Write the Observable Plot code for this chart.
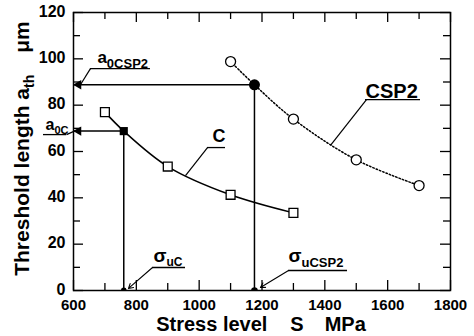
<!DOCTYPE html>
<html>
<head>
<meta charset="utf-8">
<script src="https://cdn.jsdelivr.net/npm/d3@7"></script>
<script src="https://cdn.jsdelivr.net/npm/@observablehq/plot@0.6"></script>
<style>
  html, body { margin: 0; padding: 0; background: #fff; }
</style>
</head>
<body>
<div id="chart"></div>
<script>
// ---- data ----
const stressC = [700, 900, 1100, 1300];
const athC = [77, 53.5, 41.3, 33.5];
const stressCSP2 = [1100, 1300, 1500, 1700];
const athCSP2 = [98.8, 74, 56.4, 45.3];
const seriesNames = ["C", "CSP2"];
const sigmaU = [760, 1176];      // σuC, σuCSP2
const a0 = [68.8, 88.8];         // a0C, a0CSP2

const xMajor = [600, 800, 1000, 1200, 1400, 1600, 1800];
const xMinor = [700, 900, 1100, 1300, 1500, 1700];
const yMajor = [0, 20, 40, 60, 80, 100, 120];
const yMinor = [10, 30, 50, 70, 90, 110];

const xTitle = "Stress level S MPa";
const yTitle = "Threshold length ath μm";

// ---- annotation placement (data units) ----
const notes = [
  {text: "a0CSP2", x: 676, y: 98.4, size: 17, ul: [654, 845, 95.8], lead: [654, 95.8, 622, 88.8], head: false},
  {text: "a0C", x: 511, y: 69.1, size: 16, ul: [504.5, 577.7, 67.3], lead: [577.7, 67.3, 603, 68.8], head: false},
  {text: "σuC", x: 854.6, y: 12.1, size: 19, ul: [851.5, 956.5, 9.93], lead: [851.5, 9.93, 775, 0.9], head: true},
  {text: "σuCSP2", x: 1284.4, y: 12.1, size: 19, ul: [1284.4, 1472.2, 8.63], lead: [1284.4, 8.63, 1195, 1.3], head: true},
  {text: seriesNames[0], x: 1042.4, y: 63.9, size: 18, ul: [1026.5, 1083.8, 61.7], lead: [1026.5, 61.7, 956.5, 49.6], head: false},
  {text: seriesNames[1], x: 1529.5, y: 83.3, size: 20, ul: [1529.5, 1704.5, 82.4], lead: [1532.6, 82.4, 1418, 62.6], head: false}
];

// rich text (subscripts) specs, applied after rendering
const rich = {
  "a0CSP2": [{t: "a"}, {t: "0CSP2", sub: 5, size: 13}],
  "a0C": [{t: "a"}, {t: "0C", sub: 4, size: 11}],
  "σuC": [{t: "σ"}, {t: "uC", sub: 4, size: 12}],
  "σuCSP2": [{t: "σ"}, {t: "uCSP2", sub: 5, size: 13}],
  [yTitle]: [{t: "Threshold length "}, {t: "a"}, {t: "th", sub: 5, size: 14}, {t: "μm", dx: 22}],
  [xTitle]: [{t: "Stress level"}, {t: "S", dx: 23}, {t: "MPa", dx: 21}]
};

// ---- derived tables ----
const ptsC = stressC.map((s, i) => ({s, a: athC[i]}));
const ptsCSP2 = stressCSP2.map((s, i) => ({s, a: athCSP2[i]}));
const curveC = [...ptsC, {s: sigmaU[0], a: a0[0]}].sort((p, q) => p.s - q.s);
const curveCSP2 = [...ptsCSP2, {s: sigmaU[1], a: a0[1]}].sort((p, q) => p.s - q.s);
const thr = sigmaU.map((s, i) => ({s, a: a0[i]}));

const W = 474, H = 336, ML = 73, MR = 24, MT = 12, MB = 46;
const FW = W - ML - MR, FH = H - MT - MB;
const FONT = "'Liberation Sans', Arial, Helvetica, sans-serif";

const plot = Plot.plot({
  width: W, height: H,
  marginLeft: ML, marginRight: MR, marginTop: MT, marginBottom: MB,
  style: {fontFamily: FONT, background: "#fff", color: "#000"},
  x: {domain: [600, 1800], axis: null},
  y: {domain: [0, 120], axis: null},
  marks: [
    // threshold guide lines
    Plot.ruleY(thr, {y: "a", x1: 600, x2: "s", stroke: "#000", strokeWidth: 1.5}),
    Plot.ruleX(thr, {x: "s", y1: 0, y2: "a", stroke: "#000", strokeWidth: 1.5}),
    // curves
    Plot.line(curveC, {x: "s", y: "a", curve: "catmull-rom", stroke: "#000", strokeWidth: 1.5}),
    Plot.line(curveCSP2, {x: "s", y: "a", curve: "catmull-rom", stroke: "#000", strokeWidth: 1.5, strokeDasharray: "1.5 2"}),
    // frame and ticks
    Plot.frame({stroke: "#000", strokeWidth: 1.5}),
    Plot.ruleX(xMajor, {x: d => d, insetTop: FH - 10, stroke: "#000", strokeWidth: 1.3}),
    Plot.ruleX(xMinor, {x: d => d, insetTop: FH - 7, stroke: "#000", strokeWidth: 1.3}),
    Plot.ruleX(xMajor, {x: d => d, insetBottom: FH - 10, stroke: "#000", strokeWidth: 1.3}),
    Plot.ruleX(xMinor, {x: d => d, insetBottom: FH - 7, stroke: "#000", strokeWidth: 1.3}),
    Plot.ruleY(yMajor, {y: d => d, insetRight: FW - 10, stroke: "#000", strokeWidth: 1.3}),
    Plot.ruleY(yMinor, {y: d => d, insetRight: FW - 7, stroke: "#000", strokeWidth: 1.3}),
    Plot.ruleY(yMajor, {y: d => d, insetLeft: FW - 10, stroke: "#000", strokeWidth: 1.3}),
    Plot.ruleY(yMinor, {y: d => d, insetLeft: FW - 7, stroke: "#000", strokeWidth: 1.3}),
    // tick labels
    Plot.text(xMajor, {x: d => d, y: 0, text: d => String(d), dy: 9, lineAnchor: "top", fontSize: 15, fontWeight: "bold", fill: "#000"}),
    Plot.text(yMajor, {x: 600, y: d => d, text: d => String(d), dx: -8, dy: -1, textAnchor: "end", fontSize: 16, fontWeight: "bold", fill: "#000"}),
    // markers
    Plot.dot(ptsC, {x: "s", y: "a", symbol: "square", r: 5, fill: "#fff", stroke: "#000", strokeWidth: 1.3}),
    Plot.dot(ptsCSP2, {x: "s", y: "a", symbol: "circle", r: 5, fill: "#fff", stroke: "#000", strokeWidth: 1.3}),
    Plot.dot(thr.slice(0, 1), {x: "s", y: "a", symbol: "square", r: 4.6, fill: "#000"}),
    Plot.dot(thr.slice(1), {x: "s", y: "a", symbol: "circle", r: 5.5, fill: "#000"}),
    Plot.dot(sigmaU.map((s, i) => ({s, r: i ? 6 : 4.5})), {x: "s", y: 0, r: "r", fill: "#000", clip: true}),
    Plot.dot(a0, {x: 600, y: d => d, symbol: "triangle", rotate: -90, dx: 5, r: 3.5, fill: "#000"}),
    // annotations
    Plot.ruleY(notes, {y: d => d.ul[2], x1: d => d.ul[0], x2: d => d.ul[1], stroke: "#000", strokeWidth: 1.3}),
    Plot.link(notes.filter(d => !d.head), {x1: d => d.lead[0], y1: d => d.lead[1], x2: d => d.lead[2], y2: d => d.lead[3], stroke: "#000", strokeWidth: 1.2}),
    Plot.arrow(notes.filter(d => d.head), {x1: d => d.lead[0], y1: d => d.lead[1], x2: d => d.lead[2], y2: d => d.lead[3], stroke: "#000", strokeWidth: 1.1, headLength: 7}),
    Plot.text(notes, {x: "x", y: "y", text: "text", fontSize: "size", textAnchor: "start", lineAnchor: "bottom", fontWeight: "bold", fill: "#000"}),
    // axis titles
    Plot.text([xTitle], {frameAnchor: "bottom", text: d => d, dy: 40, dx: -1, textAnchor: "middle", lineAnchor: "bottom", fontSize: 20, fontWeight: "bold", fill: "#000"}),
    Plot.text([yTitle], {frameAnchor: "left", text: d => d, rotate: -90, dx: -45, dy: -3, textAnchor: "middle", lineAnchor: "bottom", fontSize: 21, fontWeight: "bold", fill: "#000"})
  ]
});

// apply subscripts / spacing as tspans
d3.select(plot).selectAll("text").each(function () {
  const spec = rich[this.textContent];
  if (!spec) return;
  const el = d3.select(this);
  el.text(null);
  let shift = 0;
  for (const p of spec) {
    const ts = el.append("tspan").text(p.t);
    const target = p.sub || 0;
    if (target !== shift) { ts.attr("dy", target - shift); shift = target; }
    if (p.size) ts.attr("font-size", p.size);
    if (p.weight) ts.attr("font-weight", p.weight);
    if (p.dx) ts.attr("dx", p.dx);
  }
});

document.getElementById("chart").appendChild(plot);
</script>
</body>
</html>
